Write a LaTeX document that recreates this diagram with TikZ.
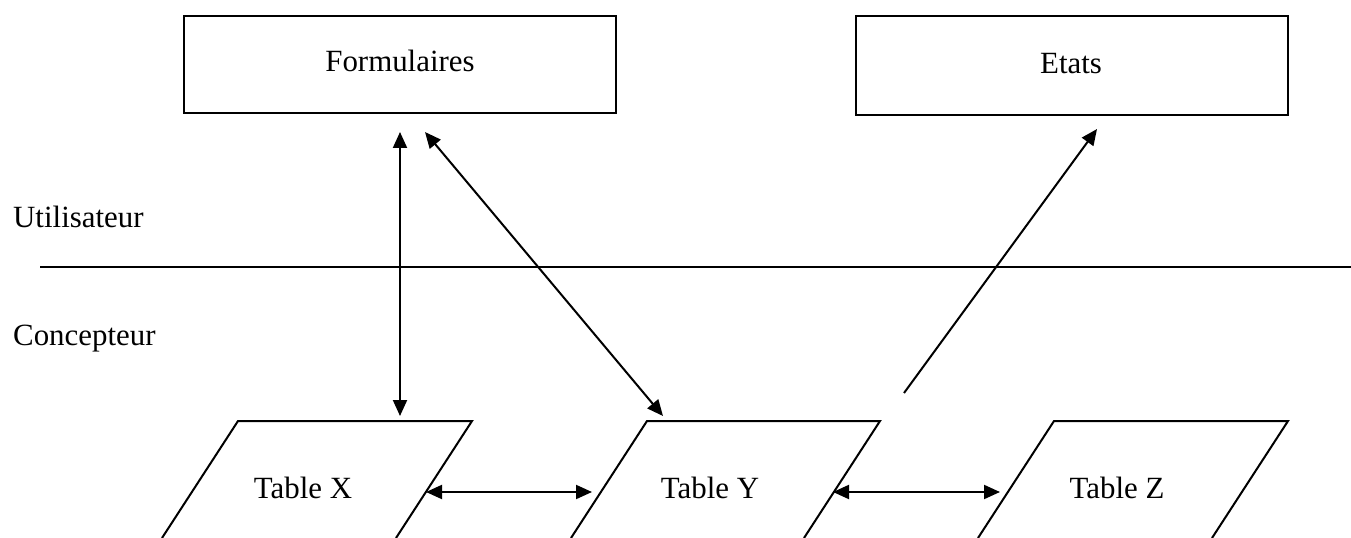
\documentclass[tikz,border=0pt]{standalone}
\usepackage{fontspec}
\setmainfont{Liberation Serif}
\usetikzlibrary{arrows.meta}
\tikzset{
  lw/.style={line width=2bp},
  tbl/.style={lw, line join=miter},
  lbl/.style={font=\fontsize{31}{37}\selectfont, inner sep=0pt, anchor=base},
  dbl/.style={lw, {Triangle[length=16bp,width=14bp]}-{Triangle[length=16bp,width=14bp]}},
  sgl/.style={lw, -{Triangle[length=16bp,width=14bp]}},
}
\begin{document}
\begin{tikzpicture}[x=1bp,y=-1bp]
\useasboundingbox (0,0) rectangle (1351,538);
\begin{scope}
\clip (0,0) rectangle (1351,538);
% boxes
\draw[lw] (184,16) rectangle (616,113);
\draw[lw] (856,16) rectangle (1288,115);
\node[lbl] (form) at (400,72) {Formulaires};
\node[lbl] (etats) at (1071,74) {Etats};
% separator
\coordinate (sepL) at (40,267);
\coordinate (sepR) at (1351,267);
\draw[lw] (sepL) -- (sepR);
\node[lbl, anchor=base west] (util) at (13,228) {Utilisateur};
\node[lbl, anchor=base west] (conc) at (13,345) {Concepteur};
% tables
\draw[tbl] (162,538) -- (238,421) -- (472,421) -- (396,538);
\draw[tbl] (571,538) -- (647,421) -- (880,421) -- (804,538);
\draw[tbl] (978,538) -- (1054,421) -- (1288,421) -- (1212,538);
\node[lbl] (tx) at (303,498) {Table X};
\node[lbl] (ty) at (710,498) {Table Y};
\node[lbl] (tz) at (1117,498) {Table Z};
% connector end points
\coordinate (fa) at (400,132);
\coordinate (fb) at (425,132);
\coordinate (xa) at (400,416);
\coordinate (ya) at (663,416);
\coordinate (et) at (1097,129);
\coordinate (ez) at (904,393);
\coordinate (xr) at (426,492);
\coordinate (yl) at (592,492);
\coordinate (yr) at (833,492);
\coordinate (zl) at (1000,492);
% connectors
\draw[dbl] (fa) -- (xa);
\draw[dbl] (fb) -- (ya);
\draw[sgl] (ez) -- (et);
\draw[dbl] (xr) -- (yl);
\draw[dbl] (yr) -- (zl);
\end{scope}
\end{tikzpicture}
\end{document}
